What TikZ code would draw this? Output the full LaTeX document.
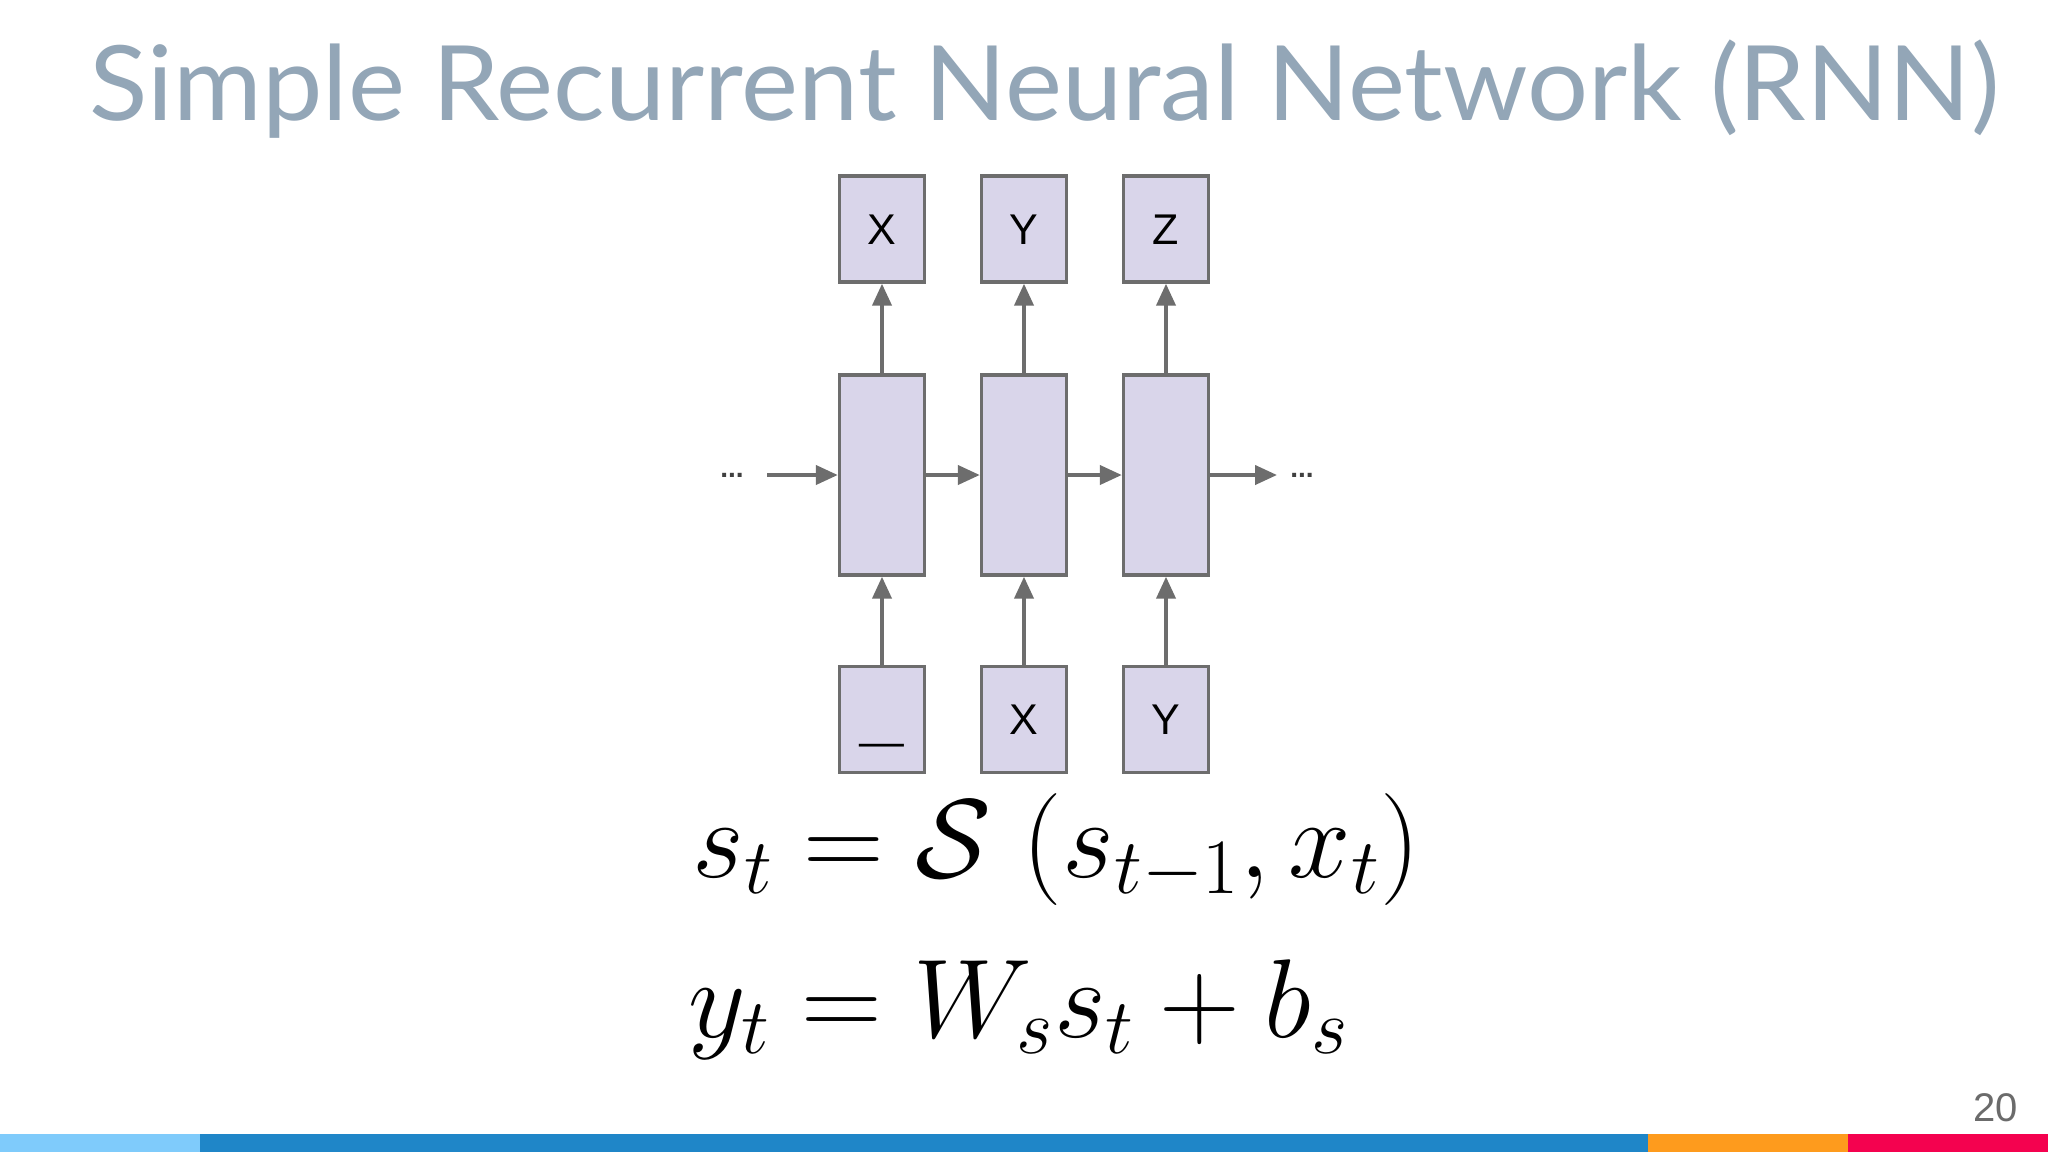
\RequirePackage{fix-cm}
\documentclass[tikz,border=0pt]{standalone}
\usepackage{fontspec}
\usepackage{graphicx}
\usetikzlibrary{arrows.meta}
\newfontfamily\titlefont{Lato}
\newfontfamily\labelfont{Liberation Sans}
\definecolor{titlecol}{HTML}{93A6B7}
\definecolor{boxfill}{HTML}{D9D5EA}
\definecolor{boxline}{HTML}{6D6D6D}
\definecolor{pagecol}{HTML}{6B6B6B}
\definecolor{barA}{HTML}{7FCBFB}
\definecolor{barB}{HTML}{1F86C8}
\definecolor{barC}{HTML}{FE9B1D}
\definecolor{barD}{HTML}{F4024F}
\tikzset{
  cell/.style={draw=boxline, fill=boxfill, line width=1.7pt, inner sep=0pt, minimum width=42.5pt},
  smallcell/.style={cell, minimum height=53pt, font=\labelfont\fontsize{21.5}{21.5}\selectfont, text=black, text height=15.4pt, text depth=0pt},
  bigcell/.style={cell, minimum height=100pt},
  flow/.style={draw=boxline, line width=2pt, -{Triangle[length=11pt,width=9.5pt]}},
  dots/.style={anchor=base, inner sep=0pt, font=\labelfont\bfseries\fontsize{14}{14}\selectfont, text=black!75},
  eqn/.style={anchor=base west, inner sep=0pt, font=\fontsize{56}{62}\selectfont}
}
\begin{document}
\begin{tikzpicture}[x=0.5pt,y=-0.5pt]
\useasboundingbox (0,0) rectangle (2048,1152);
\fill[white] (0,0) rectangle (2048,1152);
% title
\node[anchor=base west, text=titlecol, font=\titlefont\fontsize{52}{60}\selectfont, inner sep=0pt] (title) at (89,120) {\scalebox{1.037}[1]{Simple Recurrent Neural Network (RNN)}};
% cells
\node[smallcell] (o1) at (882,229) {X};
\node[smallcell] (o2) at (1024,229) {Y};
\node[smallcell] (o3) at (1166,229) {Z};
\node[bigcell] (h1) at (882,475) {};
\node[bigcell] (h2) at (1024,475) {};
\node[bigcell] (h3) at (1166,475) {};
\node[smallcell] (i1) at (882,719.5) {\raisebox{-2pt}{\scalebox{1.8}[1]{\_}}};
\node[smallcell] (i2) at (1024,719.5) {X};
\node[smallcell] (i3) at (1166,719.5) {Y};
% dots
\node[dots] (dl) at (732,477) {...};
\node[dots] (dr) at (1302,477) {...};
% connectors
\coordinate (ls) at (767,475);
\coordinate (re) at (1277,475);
\draw[flow] (ls) -- (h1.west);
\draw[flow] (h1) -- (h2);
\draw[flow] (h2) -- (h3);
\draw[flow] (h3.east) -- (re);
\draw[flow] (i1) -- (h1);
\draw[flow] (i2) -- (h2);
\draw[flow] (i3) -- (h3);
\draw[flow] (h1) -- (o1);
\draw[flow] (h2) -- (o2);
\draw[flow] (h3) -- (o3);
% equations
\node[eqn] (eq1) at (692,877) {$s_t = \mathcal{S}\;(s_{t-1}, x_t)$};
\node[eqn] (eq2) at (688,1037) {$y_t = W_s s_t + b_s$};
% page number
\node[anchor=base east, font=\labelfont\fontsize{20}{20}\selectfont, text=pagecol, inner sep=0pt] (pg) at (2018,1121) {20};
% bottom bar
\fill[barA] (0,1134) rectangle (200,1152);
\fill[barB] (200,1134) rectangle (1648,1152);
\fill[barC] (1648,1134) rectangle (1848,1152);
\fill[barD] (1848,1134) rectangle (2048,1152);
\end{tikzpicture}
\end{document}
